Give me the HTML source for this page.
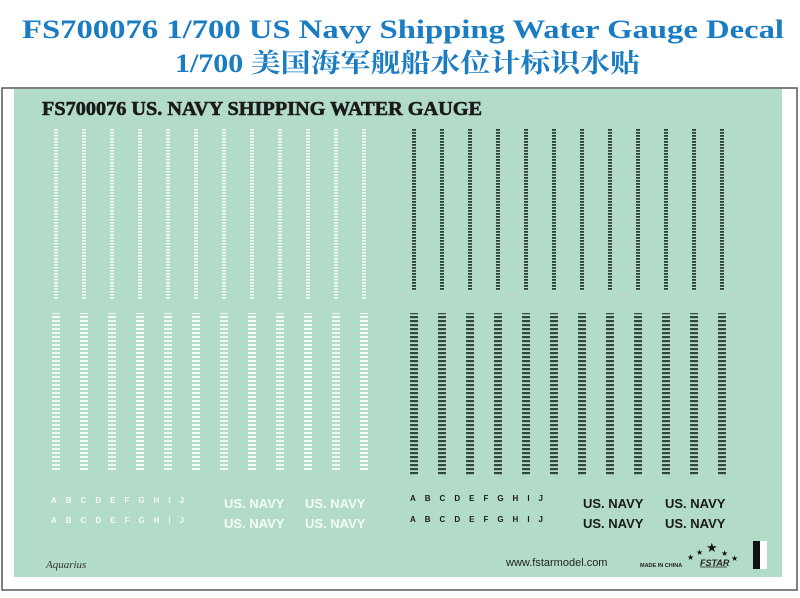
<!DOCTYPE html><html><head><style>
body{margin:0;width:800px;height:593px;background:#fff;overflow:hidden;font-family:"Liberation Sans","Noto Sans CJK SC",sans-serif}
</style></head><body>
<svg width="800" height="593" xmlns="http://www.w3.org/2000/svg">
<defs>
<pattern id="wt" width="4" height="3" patternUnits="userSpaceOnUse"><rect width="4" height="1.6" fill="#f4fbf7"/></pattern>
<pattern id="dt" width="4" height="3" patternUnits="userSpaceOnUse"><rect width="4" height="1.8" fill="#2f3f38"/></pattern>
<pattern id="wb" width="8" height="4" patternUnits="userSpaceOnUse"><rect width="8" height="2" fill="#f4fbf7"/></pattern>
<pattern id="db" width="8" height="4" patternUnits="userSpaceOnUse"><rect width="8" height="2.2" fill="#33463e"/></pattern>
</defs>
<rect x="2" y="88" width="795" height="502" fill="none" stroke="#555" stroke-width="1.5"/>
<rect x="14" y="89" width="768" height="488" fill="#b3dcc8"/>
<text x="22" y="38" font-family="Liberation Serif" font-weight="bold" font-size="26" fill="#1a7cc2" textLength="762" lengthAdjust="spacingAndGlyphs">FS700076 1/700 US Navy Shipping Water Gauge Decal</text>
<text x="175" y="72" font-family="Liberation Serif,'Noto Serif CJK SC',serif" font-weight="bold" font-size="26" fill="#1a7cc2" textLength="465" lengthAdjust="spacingAndGlyphs">1/700 美国海军舰船水位计标识水贴</text>
<text x="42" y="115" font-family="Liberation Serif" font-weight="bold" font-size="20" fill="#1a1a1a" textLength="440" lengthAdjust="spacingAndGlyphs" stroke="#1a1a1a" stroke-width="0.6">FS700076 US. NAVY SHIPPING WATER GAUGE</text>
<g id="cols">
<rect x="54" y="128" width="4" height="172" fill="url(#wt)"/><rect x="82" y="128" width="4" height="172" fill="url(#wt)"/><rect x="110" y="128" width="4" height="172" fill="url(#wt)"/><rect x="138" y="128" width="4" height="172" fill="url(#wt)"/><rect x="166" y="128" width="4" height="172" fill="url(#wt)"/><rect x="194" y="128" width="4" height="172" fill="url(#wt)"/><rect x="222" y="128" width="4" height="172" fill="url(#wt)"/><rect x="250" y="128" width="4" height="172" fill="url(#wt)"/><rect x="278" y="128" width="4" height="172" fill="url(#wt)"/><rect x="306" y="128" width="4" height="172" fill="url(#wt)"/><rect x="334" y="128" width="4" height="172" fill="url(#wt)"/><rect x="362" y="128" width="4" height="172" fill="url(#wt)"/>
<rect x="412" y="128" width="4" height="162" fill="url(#dt)"/><rect x="440" y="128" width="4" height="162" fill="url(#dt)"/><rect x="468" y="128" width="4" height="162" fill="url(#dt)"/><rect x="496" y="128" width="4" height="162" fill="url(#dt)"/><rect x="524" y="128" width="4" height="162" fill="url(#dt)"/><rect x="552" y="128" width="4" height="162" fill="url(#dt)"/><rect x="580" y="128" width="4" height="162" fill="url(#dt)"/><rect x="608" y="128" width="4" height="162" fill="url(#dt)"/><rect x="636" y="128" width="4" height="162" fill="url(#dt)"/><rect x="664" y="128" width="4" height="162" fill="url(#dt)"/><rect x="692" y="128" width="4" height="162" fill="url(#dt)"/><rect x="720" y="128" width="4" height="162" fill="url(#dt)"/>
<rect x="52" y="313" width="8" height="158" fill="url(#wb)"/><rect x="80" y="313" width="8" height="158" fill="url(#wb)"/><rect x="108" y="313" width="8" height="158" fill="url(#wb)"/><rect x="136" y="313" width="8" height="158" fill="url(#wb)"/><rect x="164" y="313" width="8" height="158" fill="url(#wb)"/><rect x="192" y="313" width="8" height="158" fill="url(#wb)"/><rect x="220" y="313" width="8" height="158" fill="url(#wb)"/><rect x="248" y="313" width="8" height="158" fill="url(#wb)"/><rect x="276" y="313" width="8" height="158" fill="url(#wb)"/><rect x="304" y="313" width="8" height="158" fill="url(#wb)"/><rect x="332" y="313" width="8" height="158" fill="url(#wb)"/><rect x="360" y="313" width="8" height="158" fill="url(#wb)"/>
<rect x="410" y="313" width="8" height="163" fill="url(#db)"/><rect x="438" y="313" width="8" height="163" fill="url(#db)"/><rect x="466" y="313" width="8" height="163" fill="url(#db)"/><rect x="494" y="313" width="8" height="163" fill="url(#db)"/><rect x="522" y="313" width="8" height="163" fill="url(#db)"/><rect x="550" y="313" width="8" height="163" fill="url(#db)"/><rect x="578" y="313" width="8" height="163" fill="url(#db)"/><rect x="606" y="313" width="8" height="163" fill="url(#db)"/><rect x="634" y="313" width="8" height="163" fill="url(#db)"/><rect x="662" y="313" width="8" height="163" fill="url(#db)"/><rect x="690" y="313" width="8" height="163" fill="url(#db)"/><rect x="718" y="313" width="8" height="163" fill="url(#db)"/>
</g>
<g font-family="Liberation Sans" font-weight="bold" font-size="8" fill="#f4fbf7">
<text x="51" y="503" letter-spacing="9">ABCDEFGHIJ</text>
<text x="51" y="523" letter-spacing="9">ABCDEFGHIJ</text>
</g>
<g font-family="Liberation Sans" font-weight="bold" font-size="8" fill="#1a1a1a">
<text x="410" y="501" letter-spacing="9">ABCDEFGHIJ</text>
<text x="410" y="522" letter-spacing="9">ABCDEFGHIJ</text>
</g>
<g font-family="Liberation Sans" font-weight="bold" font-size="13" fill="#f4fbf7">
<text x="224" y="508">US. NAVY</text><text x="305" y="508">US. NAVY</text>
<text x="224" y="528">US. NAVY</text><text x="305" y="528">US. NAVY</text>
</g>
<g font-family="Liberation Sans" font-weight="bold" font-size="13" fill="#1a1a1a">
<text x="583" y="508">US. NAVY</text><text x="665" y="508">US. NAVY</text>
<text x="583" y="528">US. NAVY</text><text x="665" y="528">US. NAVY</text>
</g>
<text x="46" y="568" font-family="Liberation Serif" font-style="italic" font-size="11" fill="#333">Aquarius</text>
<text x="506" y="566" font-family="Liberation Sans" font-size="11" fill="#222">www.fstarmodel.com</text>
<text x="640" y="567" font-family="Liberation Sans" font-weight="bold" font-size="5.5" fill="#222">MADE IN CHINA</text>
<g font-family="DejaVu Sans" fill="#111">
<text x="687" y="560" font-size="8">★</text><text x="696" y="555" font-size="8">★</text><text x="706" y="552" font-size="13">★</text><text x="721" y="556" font-size="8">★</text><text x="731" y="561" font-size="8">★</text>
</g>
<text x="700" y="566" font-family="Liberation Sans" font-weight="bold" font-style="italic" font-size="9" fill="#222">FSTAR</text>
<line x1="700" y1="567" x2="727" y2="567" stroke="#222" stroke-width="0.8"/>
<rect x="753" y="541" width="7" height="28" fill="#111"/>
<rect x="760" y="541" width="7" height="28" fill="#fff"/>
</svg>
</body></html>
